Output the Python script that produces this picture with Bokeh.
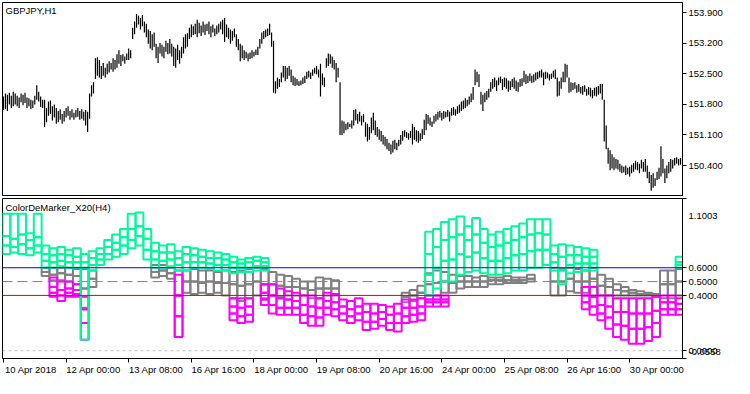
from bokeh.plotting import figure
from bokeh.models import (Range1d, FixedTicker, Span, Label, NumeralTickFormatter,
                          ColumnDataSource, LinearAxis)
from bokeh.layouts import column
from bokeh.embed import file_html
from bokeh.resources import INLINE

N = None
FONT = "Liberation Sans"
FS = "9.5px"

# ---------------- price data (GBPJPY H1 bars) ----------------
price_high = [
    151.98, 152.05, 152.02, 152.07, 152.00, 152.09, 152.05, 152.00, 151.96, 152.05,
    152.02, 152.07, 151.96, 151.94, 151.91, 151.89, 152.00, 152.24, 152.09, 151.98,
    151.91, 151.91, 151.72, 151.87, 151.89, 151.76, 151.80, 151.72, 151.65, 151.69,
    151.58, 151.65, 151.72, 151.76, 151.65, 151.69, 151.61, 151.67, 151.72, 151.65,
    151.69, 151.63, 151.67, 151.63, 152.05, 152.24, 152.31, 152.86, 152.88, 152.82,
    152.68, 152.75, 152.64, 152.73, 152.79, 152.75, 152.86, 152.82, 152.95, 153.04,
    152.93, 152.95, 152.90, 152.97, 153.08, 153.04, 153.56, 153.70, 153.87, 153.83,
    153.78, 153.85, 153.70, 153.65, 153.52, 153.48, 153.41, 153.45, 153.19, 153.12,
    153.21, 153.17, 153.12, 153.26, 153.21, 153.30, 153.19, 153.12, 153.08, 153.17,
    153.04, 153.12, 153.34, 153.41, 153.43, 153.56, 153.63, 153.59, 153.65, 153.74,
    153.67, 153.61, 153.70, 153.63, 153.65, 153.70, 153.59, 153.63, 153.54, 153.61,
    153.65, 153.70, 153.74, 153.78, 153.63, 153.56, 153.52, 153.48, 153.54, 153.41,
    153.30, 153.19, 153.15, 153.04, 153.01, 152.97, 152.99, 153.04, 153.01, 153.06,
    153.12, 153.30, 153.45, 153.48, 153.52, 153.54, 153.65, 153.45, 153.26, 152.33,
    152.42, 152.38, 152.53, 152.68, 152.68, 152.64, 152.68, 152.60, 152.46, 152.42,
    152.38, 152.33, 152.35, 152.42, 152.46, 152.55, 152.57, 152.53, 152.60, 152.64,
    152.68, 152.60, 152.73, 152.51, 152.42, 152.86, 152.97, 152.95, 152.90, 152.82,
    152.75, 152.64, 152.31, 151.43, 151.41, 151.36, 151.39, 151.36, 151.43, 151.67,
    151.69, 151.58, 151.63, 151.54, 151.58, 151.39, 151.36, 151.28, 151.50, 151.61,
    151.43, 151.28, 151.23, 151.19, 151.10, 151.06, 151.01, 150.92, 150.88, 150.97,
    150.99, 150.92, 150.99, 151.10, 151.19, 151.21, 151.17, 151.14, 151.19, 151.36,
    151.28, 151.21, 151.19, 151.14, 151.23, 151.45, 151.58, 151.56, 151.50, 151.41,
    151.54, 151.58, 151.63, 151.65, 151.61, 151.65, 151.63, 151.67, 151.63, 151.72,
    151.74, 151.69, 151.76, 151.80, 151.87, 151.89, 151.94, 151.91, 151.98, 152.05,
    152.20, 152.60, 152.55, 152.49, 152.09, 152.02, 152.07, 152.11, 152.16, 152.31,
    152.38, 152.42, 152.35, 152.42, 152.44, 152.38, 152.42, 152.40, 152.35, 152.33,
    152.38, 152.42, 152.35, 152.31, 152.38, 152.40, 152.57, 152.49, 152.46, 152.51,
    152.46, 152.49, 152.53, 152.55, 152.57, 152.60, 152.53, 152.55, 152.53, 152.49,
    152.51, 152.57, 152.60, 152.42, 152.33, 152.42, 152.55, 152.73, 152.71, 152.42,
    152.31, 152.29, 152.31, 152.24, 152.27, 152.20, 152.22, 152.24, 152.16, 152.20,
    152.18, 152.13, 152.18, 152.20, 152.22, 152.27, 152.27, 151.91, 151.32, 150.81,
    150.75, 150.66, 150.59, 150.55, 150.53, 150.44, 150.40, 150.37, 150.40, 150.35,
    150.37, 150.42, 150.46, 150.51, 150.48, 150.44, 150.53, 150.48, 150.55, 150.40,
    150.26, 150.18, 150.22, 150.11, 150.26, 150.35, 150.84, 150.55, 150.33, 150.40,
    150.48, 150.55, 150.53, 150.57, 150.59, 150.55, 150.57,
]
price_low = [
    151.67, 151.69, 151.65, 151.80, 151.72, 151.76, 151.80, 151.76, 151.72, 151.85,
    151.78, 151.83, 151.72, 151.76, 151.69, 151.72, 151.80, 151.91, 151.87, 151.74,
    151.72, 151.28, 151.39, 151.54, 151.58, 151.43, 151.50, 151.36, 151.39, 151.45,
    151.36, 151.41, 151.50, 151.54, 151.45, 151.50, 151.45, 151.50, 151.52, 151.45,
    151.47, 151.43, 151.32, 151.17, 151.47, 151.98, 152.05, 152.38, 152.46, 152.42,
    152.38, 152.46, 152.42, 152.49, 152.53, 152.60, 152.55, 152.60, 152.64, 152.73,
    152.68, 152.79, 152.73, 152.82, 152.82, 152.86, 153.30, 153.41, 153.56, 153.63,
    153.52, 153.59, 153.45, 153.34, 153.19, 153.08, 153.04, 153.12, 152.86, 152.75,
    152.97, 152.90, 152.86, 153.01, 152.95, 152.97, 152.90, 152.68, 152.64, 152.82,
    152.73, 152.86, 152.97, 153.08, 153.12, 153.30, 153.34, 153.39, 153.41, 153.34,
    153.43, 153.37, 153.45, 153.39, 153.48, 153.41, 153.34, 153.45, 153.37, 153.41,
    153.45, 153.52, 153.41, 153.23, 153.34, 153.30, 153.19, 153.26, 153.34, 153.12,
    153.04, 152.79, 152.86, 152.82, 152.86, 152.79, 152.84, 152.86, 152.90, 152.93,
    152.93, 153.08, 153.19, 153.30, 153.34, 153.37, 153.39, 153.12, 152.07, 152.05,
    152.16, 152.20, 152.31, 152.42, 152.33, 152.38, 152.46, 152.31, 152.24, 152.22,
    152.24, 152.22, 152.24, 152.27, 152.29, 152.38, 152.42, 152.38, 152.46, 152.51,
    152.49, 152.42, 151.98, 152.24, 152.20, 152.64, 152.68, 152.73, 152.64, 152.60,
    152.31, 152.42, 151.10, 151.10, 151.14, 151.21, 151.23, 151.28, 151.25, 151.32,
    151.43, 151.36, 151.41, 151.32, 151.39, 151.06, 150.95, 150.99, 151.14, 151.21,
    151.10, 151.06, 150.99, 150.95, 150.88, 150.84, 150.77, 150.73, 150.66, 150.70,
    150.77, 150.75, 150.84, 150.88, 150.97, 151.06, 151.03, 150.99, 151.03, 150.88,
    150.99, 150.95, 150.92, 150.97, 151.01, 151.10, 151.21, 151.36, 151.32, 151.28,
    151.36, 151.41, 151.45, 151.50, 151.43, 151.47, 151.50, 151.52, 151.41, 151.54,
    151.56, 151.54, 151.58, 151.61, 151.65, 151.69, 151.72, 151.76, 151.80, 151.85,
    151.91, 152.24, 152.31, 152.20, 151.80, 151.65, 151.85, 151.91, 151.96, 152.09,
    152.16, 152.20, 152.11, 152.24, 152.29, 152.13, 152.20, 152.16, 152.09, 152.13,
    152.20, 152.16, 152.11, 152.09, 152.20, 152.22, 152.31, 152.27, 152.29, 152.33,
    152.29, 152.31, 152.35, 152.38, 152.42, 152.42, 152.24, 152.38, 152.40, 152.35,
    152.38, 152.42, 152.38, 151.98, 152.00, 152.16, 152.31, 152.31, 152.42, 152.07,
    152.09, 152.13, 152.16, 152.07, 152.09, 152.05, 152.02, 152.09, 152.00, 152.02,
    151.98, 151.94, 152.00, 151.98, 152.02, 152.05, 151.91, 150.95, 150.77, 150.44,
    150.29, 150.33, 150.29, 150.33, 150.31, 150.26, 150.22, 150.24, 150.18, 150.20,
    150.15, 150.22, 150.26, 150.31, 150.29, 150.22, 150.33, 150.26, 150.26, 150.11,
    150.00, 149.82, 149.89, 149.93, 150.07, 150.09, 150.15, 150.22, 150.00, 150.11,
    150.22, 150.26, 150.33, 150.40, 150.44, 150.40, 150.42,
]
price_ticks = [153.9, 153.2, 152.5, 151.8, 151.1, 150.4]

# ---------------- time axis ----------------
date_tick_bars = [0, 32, 64, 96, 128, 160, 192, 224, 256, 288, 320]
date_tick_labels = ["10 Apr 2018", "12 Apr 00:00", "13 Apr 08:00", "16 Apr 16:00",
                    "18 Apr 00:00", "19 Apr 08:00", "20 Apr 16:00", "24 Apr 00:00",
                    "25 Apr 08:00", "26 Apr 16:00", "30 Apr 00:00"]

# ---------------- ColorDeMarker_X20(H4): levels per H4 bar ----------------
h1_per_h4 = 4
green_1 = [0.99, 0.99, 0.99, 0.85, 0.99, 0.76, 0.74, 0.75, 0.73, 0.74, 0.70, 0.72, 0.74, 0.80, 0.84,
           0.88, 0.99, 1.00, 0.88, 0.78, 0.76, 0.77, 0.72, 0.75, 0.74, 0.73, 0.72, 0.71, 0.70, 0.68,
           0.66, 0.67, 0.68, 0.67] + [N] * 20 + [
           0.86, 0.88, 0.93, 0.95, 0.97, 0.90, 0.96, 0.88, 0.84, 0.86, 0.88, 0.90, 0.92, 0.95, 0.95,
           0.95, 0.76, 0.77, 0.76, 0.75, 0.74, 0.73] + [N] * 10 + [0.68]
green_2 = [0.83, 0.81, 0.84, 0.80, 0.82, 0.70, 0.69, 0.70, 0.69, 0.68, 0.64, 0.67, 0.70, 0.75, 0.78,
           0.82, 0.88, 0.90, 0.81, 0.72, 0.71, 0.71, 0.67, 0.70, 0.69, 0.68, 0.67, 0.67, 0.66, 0.64,
           0.63, 0.64, 0.65, 0.64] + [N] * 20 + [
           0.70, 0.75, 0.80, 0.82, 0.84, 0.80, 0.84, 0.78, 0.75, 0.76, 0.78, 0.80, 0.82, 0.84, 0.85,
           0.84, 0.70, 0.68, 0.69, 0.69, 0.68, 0.68] + [N] * 10 + [0.64]
green_3 = [0.76, 0.75, 0.77, 0.74, 0.76, 0.65, 0.64, 0.65, 0.64, 0.64, 0.60, 0.62, 0.66, 0.70, 0.73,
           0.76, 0.80, 0.83, 0.73, 0.66, 0.65, 0.66, 0.62, 0.64, 0.64, 0.64, 0.63, 0.62, 0.62, 0.60,
           0.60, 0.60, 0.61, 0.61] + [N] * 20 + [
           0.55, 0.60, 0.65, 0.66, 0.70, 0.68, 0.71, 0.67, 0.65, 0.65, 0.67, 0.69, 0.70, 0.72, 0.73,
           0.73, 0.64, 0.58, 0.62, 0.63, 0.63, 0.63] + [N] * 10 + [0.62]
green_4 = [0.70, 0.71, 0.70, 0.69, 0.71, 0.60, 0.60, 0.61, 0.60, 0.60, 0.08, 0.58, 0.62, 0.66, 0.68,
           0.70, 0.74, 0.76, 0.66, 0.60, 0.60, 0.61, 0.58, 0.58, 0.60, 0.60, 0.59, 0.58, 0.58, 0.56,
           0.57, 0.57, 0.58, 0.58] + [N] * 20 + [
           0.40, 0.45, 0.50, 0.50, 0.55, 0.57, 0.58, 0.56, 0.55, 0.55, 0.56, 0.58, 0.58, 0.60, 0.60,
           0.62, 0.58, 0.48, 0.56, 0.57, 0.58, 0.58] + [N] * 10 + [0.60]

gray_1 = [N] * 5 + [0.60, 0.60, 0.60, 0.60, 0.59, 0.59, 0.58] + [N] * 7 + [
          0.62, 0.62, 0.60, 0.58, 0.58, 0.59, 0.58, 0.58, 0.57, 0.58, 0.57, 0.58, 0.59, 0.60, 0.59,
          0.57, 0.55, 0.54, 0.52, 0.50, 0.50, 0.53, 0.52, 0.51] + [N] * 8 + [
          0.42, 0.44, 0.47, 0.56, 0.58, 0.57, 0.55, 0.54, 0.54, 0.53, 0.54, 0.53, 0.53, 0.54, 0.53,
          0.53, 0.55, N, N, 0.60, 0.59, 0.60, 0.59, 0.58, 0.60, 0.55, 0.52, 0.48, 0.46, 0.44, 0.43,
          0.42, 0.41, 0.58, 0.58, 0.59]
gray_2 = [N] * 5 + [0.57, 0.55, 0.56, 0.55, 0.54, 0.45, 0.52] + [N] * 7 + [
          0.57, 0.58, 0.56, 0.40, 0.50, 0.50, 0.49, 0.50, 0.49, 0.49, 0.48, 0.47, 0.48, 0.50, 0.48,
          0.48, 0.47, 0.46, 0.46, 0.45, 0.44, 0.45, 0.45, 0.45] + [N] * 8 + [
          0.39, 0.40, 0.42, 0.48, 0.49, 0.50, 0.49, 0.50, 0.50, 0.50, 0.50, 0.51, 0.51, 0.51, 0.51,
          0.51, 0.52, N, N, 0.50, 0.50, 0.52, 0.50, 0.50, 0.52, 0.47, 0.46, 0.44, 0.43, 0.42, 0.41,
          0.41, 0.40, 0.48, 0.48, 0.50]
gray_3 = [N] * 5 + [0.54, 0.51, 0.51, 0.50, 0.48, 0.31, 0.46] + [N] * 7 + [
          0.53, 0.54, 0.52, 0.10, 0.42, 0.41, 0.42, 0.41, 0.42, 0.40, 0.38, 0.36, 0.38, 0.40, 0.38,
          0.40, 0.39, 0.40, 0.40, 0.40, 0.38, 0.38, 0.40, 0.40] + [N] * 8 + [
          0.35, 0.36, 0.38, 0.40, 0.40, 0.42, 0.42, 0.45, 0.46, 0.46, 0.46, 0.48, 0.48, 0.49, 0.49,
          0.49, 0.50, N, N, 0.40, 0.40, 0.43, 0.42, 0.42, 0.40, 0.40, 0.40, 0.40, 0.40, 0.40, 0.40,
          0.40, 0.39, 0.38, 0.38, 0.40]

magenta_1 = [N] * 6 + [0.53, 0.50, 0.50, 0.48, 0.39] + [N] * 11 + [0.55] + [N] * 6 + [
             0.38, 0.38, 0.38, N, 0.48, 0.48, 0.45, 0.43, 0.42, 0.40, 0.40, 0.38, 0.42, 0.41, 0.37,
             0.36, 0.38, 0.34, 0.34, 0.33, 0.32, 0.34, 0.37, 0.37, 0.38, 0.40, 0.40, 0.40] + [N] * 17 + [
             0.46, 0.46, 0.40, 0.40, 0.38, 0.38, 0.38, 0.38, 0.38, 0.39, 0.40, 0.40, 0.38]
magenta_2 = [N] * 6 + [0.46, 0.44, 0.45, 0.44, 0.30] + [N] * 11 + [0.40] + [N] * 6 + [
             0.32, 0.31, 0.32, N, 0.42, 0.40, 0.38, 0.37, 0.36, 0.33, 0.32, 0.31, 0.36, 0.35, 0.32,
             0.30, 0.32, 0.28, 0.27, 0.28, 0.26, 0.27, 0.31, 0.31, 0.32, 0.37, 0.37, 0.37] + [N] * 17 + [
             0.40, 0.39, 0.33, 0.32, 0.28, 0.28, 0.27, 0.27, 0.27, 0.29, 0.35, 0.35, 0.34]
magenta_3 = [N] * 6 + [0.42, 0.40, 0.42, 0.41, 0.20] + [N] * 11 + [0.25] + [N] * 6 + [
             0.27, 0.25, 0.26, N, 0.37, 0.33, 0.31, 0.31, 0.31, 0.26, 0.25, 0.24, 0.31, 0.30, 0.27,
             0.25, 0.27, 0.21, 0.21, 0.23, 0.20, 0.20, 0.25, 0.26, 0.27, 0.35, 0.35, 0.35] + [N] * 17 + [
             0.35, 0.32, 0.27, 0.24, 0.19, 0.18, 0.16, 0.16, 0.17, 0.20, 0.30, 0.30, 0.30]
magenta_4 = [N] * 6 + [0.39, 0.36, 0.39, 0.39, 0.08] + [N] * 11 + [0.10] + [N] * 6 + [
             0.22, 0.20, 0.21, N, 0.33, 0.27, 0.26, 0.26, 0.26, 0.20, 0.18, 0.18, 0.26, 0.25, 0.22,
             0.20, 0.22, 0.15, 0.16, 0.18, 0.15, 0.14, 0.20, 0.21, 0.22, 0.32, 0.32, 0.32] + [N] * 17 + [
             0.30, 0.26, 0.22, 0.16, 0.10, 0.08, 0.05, 0.05, 0.07, 0.10, 0.26, 0.26, 0.26]

level_high, level_mid, level_low = 0.6, 0.5, 0.4
ind_min, ind_max = -0.0558, 1.1003
ind_ticks = [ind_max, level_high, level_mid, level_low, 0.0, ind_min]

GREEN, GRAY, MAGENTA = "#00FA9A", "#808080", "#FF00FF"

W = 734
XR = (-0.5, 347.0)
LABEL_SHIFT = 14  # date labels start just right of their tick (MetaTrader style)


def style_axis(ax):
    ax.major_tick_in = 0
    ax.major_tick_out = 4
    ax.minor_tick_in = 0
    ax.minor_tick_out = 0
    ax.major_tick_line_color = "black"
    ax.axis_line_color = "black"
    ax.major_label_text_font = FONT
    ax.major_label_text_font_size = FS
    ax.major_label_text_color = "black"
    ax.major_label_standoff = 2


# ---------------- top panel ----------------
top = figure(width=W, height=196, output_backend="svg", toolbar_location=None,
             x_range=Range1d(*XR), y_range=Range1d(149.69, 154.136),
             x_axis_location=None, y_axis_location="right",
             min_border_left=2, min_border_right=52, min_border_top=2, min_border_bottom=0)
top.xgrid.visible = False
top.ygrid.visible = False
top.outline_line_color = "black"
top.outline_line_width = 1
top.background_fill_color = "white"
top.border_fill_color = "white"
ya = top.yaxis[0]
ya.ticker = FixedTicker(ticks=price_ticks)
ya.formatter = NumeralTickFormatter(format="0.000")
style_axis(ya)

bars = ColumnDataSource(dict(x=list(range(len(price_high))), hi=price_high, lo=price_low))
top.segment(x0="x", y0="lo", x1="x", y1="hi", source=bars, line_color="black", line_width=1.2)
top.add_layout(Label(x=XR[0], y=154.136, x_offset=3, y_offset=-2, text="GBPJPY,H1",
                     text_baseline="top", text_font=FONT, text_font_size=FS, text_color="black"))

# ---------------- bottom panel ----------------
bot = figure(width=W, height=182, output_backend="svg", toolbar_location=None,
             x_range=top.x_range, y_range=Range1d(ind_min, ind_max),
             y_axis_location="right",
             min_border_left=2, min_border_right=52, min_border_top=2, min_border_bottom=20)
bot.xgrid.visible = False
bot.ygrid.visible = False
bot.outline_line_color = "black"
bot.outline_line_width = 1
bot.background_fill_color = "white"
bot.border_fill_color = "white"

ra = bot.yaxis[0]
ra.ticker = FixedTicker(ticks=ind_ticks)
ra.formatter = NumeralTickFormatter(format="0.0000")
ra.major_label_overrides = {ind_max: "\n1.1003", ind_min: "-0.0558\n"}
style_axis(ra)

# tick marks at the time positions (no labels of their own)
xa = bot.xaxis[0]
xa.ticker = FixedTicker(ticks=date_tick_bars)
style_axis(xa)
xa.major_label_overrides = {t: "" for t in date_tick_bars}
xa.major_label_text_color = None
xa.major_label_standoff = 0

# date labels, left-aligned to their ticks
xl = LinearAxis(ticker=FixedTicker(ticks=[t + LABEL_SHIFT for t in date_tick_bars]),
                major_label_overrides={t + LABEL_SHIFT: lab for t, lab in zip(date_tick_bars, date_tick_labels)})
style_axis(xl)
xl.major_tick_out = 0
xl.axis_line_color = None
xl.major_tick_line_color = None
xl.major_label_standoff = 1
bot.add_layout(xl, "below")

bot.add_layout(Span(location=level_mid, dimension="width", line_color="#808080",
                    line_width=1, line_dash="10 5", level="underlay"))
bot.add_layout(Span(location=0.0, dimension="width", line_color="#C0C0C0",
                    line_width=1, line_dash="3 3", level="underlay"))


def boxes(levels, color):
    left, right, topv, botv = [], [], [], []
    for a, b in zip(levels[:-1], levels[1:]):
        for k, (va, vb) in enumerate(zip(a, b)):
            if va is None or vb is None:
                continue
            left.append(k * h1_per_h4 - 0.5)
            right.append(k * h1_per_h4 + h1_per_h4 - 0.5)
            topv.append(va)
            botv.append(vb)
    src = ColumnDataSource(dict(left=left, right=right, top=topv, bottom=botv))
    bot.quad(left="left", right="right", top="top", bottom="bottom", source=src,
             fill_alpha=0, line_color=color, line_width=2)


boxes([gray_1, gray_2, gray_3], GRAY)
boxes([magenta_1, magenta_2, magenta_3, magenta_4], MAGENTA)
boxes([green_1, green_2, green_3, green_4], GREEN)

bot.add_layout(Span(location=level_high, dimension="width", line_color="#0000FF", line_width=1))
bot.add_layout(Span(location=level_low, dimension="width", line_color="#E00000", line_width=1))

bot.add_layout(Label(x=XR[0], y=ind_max, x_offset=3, y_offset=-3, text="ColorDeMarker_X20(H4)",
                     text_baseline="top", text_font=FONT, text_font_size=FS, text_color="black"))

p = column(top, bot, spacing=0)
open("out.html", "w").write(file_html(p, INLINE))
